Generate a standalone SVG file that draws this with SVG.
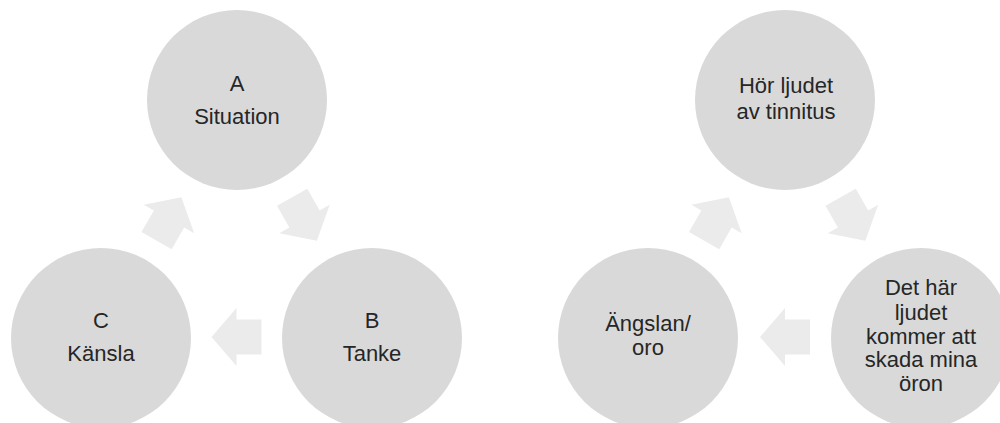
<svg xmlns="http://www.w3.org/2000/svg" xmlns:xlink="http://www.w3.org/1999/xlink" width="1000" height="423" viewBox="0 0 1000 423">
<style>
.node{fill:#d9d9d9}
.arrow{fill:#ebebeb}
text{font-family:"Liberation Sans",Arial,sans-serif;font-size:22px;fill:#262626;text-anchor:middle}
</style>
<defs>
<path id="arr" d="M25,0 L0,-29 L0,-17.4 L-25,-17.4 L-25,17.4 L0,17.4 L0,29 Z"/>
</defs>
<rect width="1000" height="423" fill="#ffffff"/>
<g id="connectors">
<use xlink:href="#arr" class="arrow" transform="translate(169,219) rotate(-60.3)"/>
<use xlink:href="#arr" class="arrow" transform="translate(304.5,219) rotate(60.4)"/>
<use xlink:href="#arr" class="arrow" transform="translate(236.5,337) rotate(180)"/>
<use xlink:href="#arr" class="arrow" transform="translate(716.5,219) rotate(-60.3)"/>
<use xlink:href="#arr" class="arrow" transform="translate(853,219) rotate(60.4)"/>
<use xlink:href="#arr" class="arrow" transform="translate(785,337) rotate(180)"/>
</g>
<g id="nodeA">
<circle class="node" cx="237" cy="100" r="90"/>
<text x="237" y="91">A</text>
<text x="237" y="124">Situation</text>
</g>
<g id="nodeB">
<circle class="node" cx="372" cy="338" r="90"/>
<text x="372" y="328">B</text>
<text x="372" y="361">Tanke</text>
</g>
<g id="nodeC">
<circle class="node" cx="101" cy="338" r="90"/>
<text x="101" y="328">C</text>
<text x="101" y="361">Känsla</text>
</g>
<g id="nodeHor">
<circle class="node" cx="785" cy="100" r="90"/>
<text x="786" y="93">Hör ljudet</text>
<text x="786" y="119">av tinnitus</text>
</g>
<g id="nodeDet">
<circle class="node" cx="921" cy="338" r="90"/>
<text x="921" y="295">Det här</text>
<text x="921" y="320">ljudet</text>
<text x="921" y="344">kommer att</text>
<text x="921" y="367">skada mina</text>
<text x="921" y="391">öron</text>
</g>
<g id="nodeAng">
<circle class="node" cx="648" cy="338" r="90"/>
<text x="648" y="331">Ängslan/</text>
<text x="648" y="355">oro</text>
</g>
</svg>
